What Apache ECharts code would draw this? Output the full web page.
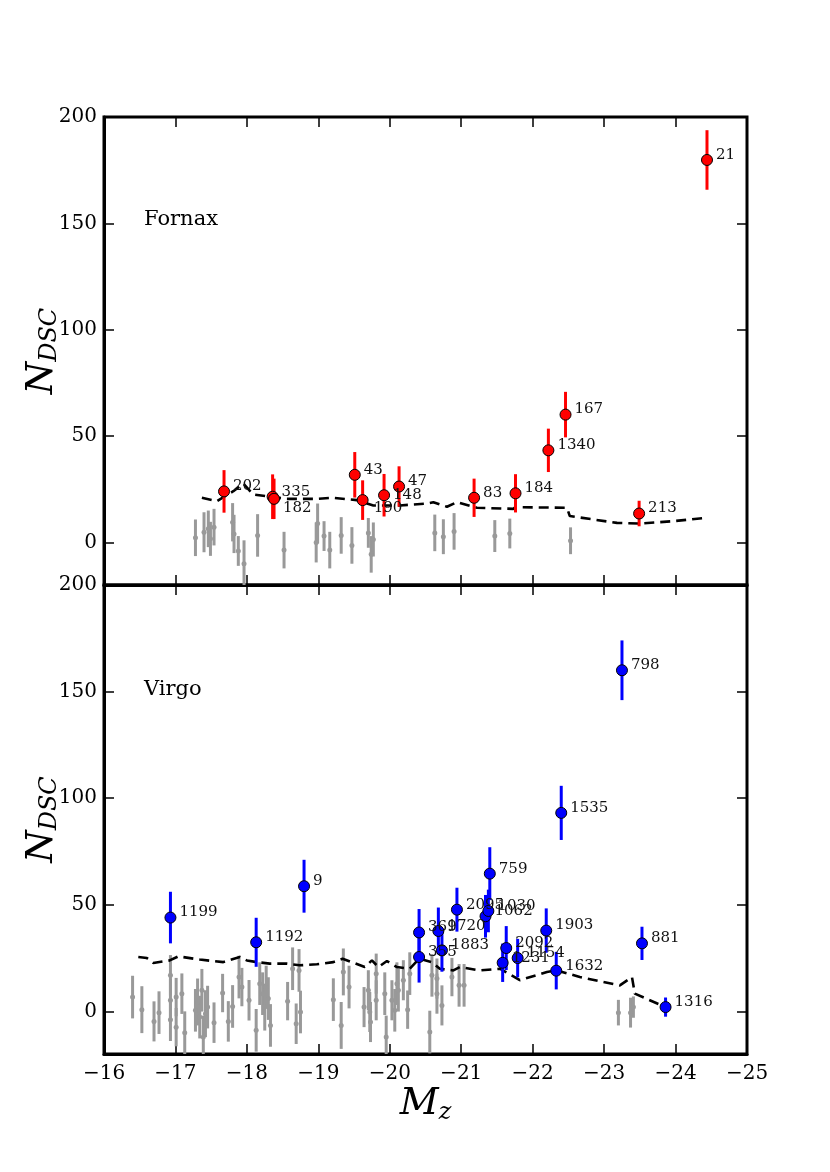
<!DOCTYPE html>
<html>
<head>
<meta charset="utf-8">
<script src="https://cdn.jsdelivr.net/npm/echarts@6/dist/echarts.min.js"></script>
<style>
  html, body { margin: 0; padding: 0; background: #fff; }
  #chart { width: 830px; height: 1172px; }
</style>
</head>
<body>
<div id="chart"></div>
<script>
// Fornax: labelled galaxies
const fornaxIds = ['202', '335', '182', '43', '190', '148', '47', '83', '184', '1340', '167', '213', '21'];
const fornaxMz = [-17.68, -18.36, -18.38, -19.51, -19.62, -19.92, -20.13, -21.18, -21.76, -22.22, -22.46, -23.49, -24.44];
const fornaxN = [24, 21.5, 20.5, 31.8, 19.9, 22.2, 26.3, 21, 23.1, 43.3, 60.1, 13.6, 179.8];
const fornaxErr = [10, 10.5, 9.5, 10.7, 9.3, 10, 9.5, 9, 9, 10.2, 10.7, 6, 14];

// Fornax: other galaxies (grey)
const fornaxGreyMz = [-17.28, -17.40, -17.46, -17.49, -17.54, -17.80, -17.82, -17.88, -17.96, -18.15, -18.52, -18.97, -18.99,
  -19.08, -19.16, -19.32, -19.47, -19.70, -19.74, -19.77, -20.63, -20.75, -20.90, -21.47, -21.68, -22.53];
const fornaxGreyN = [2.2, 4.8, 6.4, 1.7, 7.2, 9.5, 4, -4, -10, 3.3, -3.6, 0, 8.9,
  3, -3.6, 3.3, -1.4, 4.5, -5.6, 1.4, 4.5, 2.7, 5.2, 3, 4.2, 0.8];
const fornaxGreyErr = [8.6, 9.4, 8.6, 8, 8.6, 9, 9, 7, 11, 10, 8.6, 9.4, 9.4,
  7, 8.6, 8.6, 8.6, 7, 8.6, 8, 8.6, 8.2, 8.6, 7.5, 7, 6.3];

// Fornax: dashed curve
const fornaxLineMz = [-17.37, -17.58, -17.81, -17.95, -18.09, -18.28, -18.56, -18.98, -19.21, -19.54, -19.77, -20.14, -20.52,
  -20.61, -20.80, -20.94, -21.22, -21.73, -21.76, -22.48, -22.52, -23.18, -23.50, -23.97, -24.44];
const fornaxLineN = [21, 19.4, 24.1, 27.7, 22.5, 21.7, 20.5, 20.5, 21, 19.9, 17.4, 17.4, 18.3,
  18.9, 16.8, 18.9, 16.3, 15.8, 16.6, 16.3, 12.4, 9.2, 8.9, 10, 11.6];

// Virgo: labelled galaxies
const virgoIds = ['1199', '1192', '9', '369', '355', '1720', '1883', '2095', '1062', '1030', '759', '2092', '1231', '1154',
  '1903', '1632', '1535', '798', '881', '1316'];
const virgoMz = [-16.93, -18.13, -18.80, -20.41, -20.41, -20.68, -20.73, -20.94, -21.34, -21.38, -21.40, -21.63, -21.58, -21.79,
  -22.19, -22.33, -22.40, -23.25, -23.53, -23.86];
const virgoN = [44, 32.4, 58.7, 37, 25.5, 37.7, 28.6, 47.7, 44.6, 47.1, 64.6, 29.7, 22.8, 25,
  37.9, 19.1, 93.1, 160, 31.9, 2];
const virgoErr = [12.1, 11.5, 12.4, 11, 12, 11, 10, 10.3, 10, 10, 12.4, 10.3, 9, 9,
  10.4, 8.8, 12.7, 14, 7.8, 4.5];

// Virgo: other galaxies (grey)
const virgoGreyMz = [-16.40, -16.53, -16.70, -16.77, -16.93, -16.93, -16.93, -17.01, -17.01, -17.09, -17.13, -17.28, -17.31,
  -17.34, -17.37, -17.39, -17.42, -17.45, -17.54, -17.66, -17.74, -17.80, -17.89, -17.93, -18.03, -18.13, -18.18, -18.22,
  -18.25, -18.27, -18.30, -18.33, -18.57, -18.64, -18.69, -18.73, -18.75, -19.21, -19.32, -19.35, -19.43, -19.64, -19.70,
  -19.72, -19.73, -19.81, -19.81, -19.93, -19.95, -20.03, -20.07, -20.10, -20.12, -20.19, -20.25, -20.28, -20.56, -20.59,
  -20.66, -20.66, -20.73, -20.87, -20.97, -21.04, -23.20, -23.37, -23.41, -23.86];
const virgoGreyN = [6.7, 0.8, -4.7, -0.6, 16.9, 5.2, -3.9, 6.7, -7.4, 8.3, -10, 0.5, 4.4,
  -2.7, 9.9, -12, -1.1, 2, -5.3, 8.6, -4.7, 2.3, 16.1, 11.4, 5.2, -8.9, 13, 8.3,
  2, 11.4, 6, -6.6, 4.8, 20, -5.8, 19.2, -0.3, 5.5, -6.6, 18.5, 11.4, 2, 9.9,
  -0.3, -5, 5.2, 17.7, 8.3, -12, 5.2, 0.5, 13, 9.9, 14.6, 0.8, 17.7, -9.7, 16.9,
  8.3, 15.4, 2.8, 16.1, 12.2, 12.2, -0.6, -0.6, 2, 1];
const virgoGreyErr = [10, 11, 9.4, 10, 9.5, 10, 10, 9, 9, 9.5, 10, 10, 11,
  10, 10, 10, 11, 10, 9.5, 9, 9.5, 10, 10, 9, 9.5, 10, 10, 10,
  11, 10, 10, 10, 9, 10, 9.5, 10, 10, 10, 11, 11, 10, 9.4, 9.4,
  9.4, 9.4, 9.4, 9.4, 10, 10, 9.4, 10, 10, 10, 9.4, 9, 10, 10, 10,
  9.4, 9.4, 9.4, 9, 10, 10, 6, 7, 5, 3];

// Virgo: dashed curve
const virgoLineMz = [-16.48, -16.60, -16.69, -16.92, -17.04, -17.34, -17.67, -17.90, -18.00, -18.14, -18.32, -18.56, -18.74,
  -18.98, -19.21, -19.34, -19.65, -19.75, -19.84, -19.96, -20.10, -20.28, -20.41, -20.59, -20.70, -20.89, -20.98, -21.26,
  -21.54, -21.73, -21.82, -22.20, -22.34, -22.66, -23.22, -23.39, -23.43, -23.86];
const virgoLineN = [25.5, 25, 22.7, 23.9, 25.8, 24.3, 23.1, 25.5, 23.9, 23.1, 22.4, 22.4, 21.6,
  22.1, 23.1, 24.7, 20.8, 23.9, 20.8, 23.6, 20.8, 20, 24.7, 23.1, 20, 19.2, 20.8, 19.2,
  20, 16.4, 14.6, 18.5, 19.2, 16.1, 12.2, 16.1, 8.3, 2];

const yTicks = [0, 50, 100, 150, 200];

const serif = 'DejaVu Serif';
const labelShift = { '182': [0, 9], '190': [2, 8], '148': [0, 0] };

const zip3 = (a, b, c) => a.map((v, i) => [v, b[i], c[i]]);
const zip2 = (a, b) => a.map((v, i) => [v, b[i]]);

const errBars = (data, color, idx, z) => ({
  type: 'custom',
  xAxisIndex: idx,
  yAxisIndex: idx,
  clip: true,
  z,
  encode: { x: 0, y: 1 },
  data,
  renderItem: (params, api) => {
    const x = api.value(0);
    const y = api.value(1);
    const e = api.value(2);
    const p1 = api.coord([x, y - e]);
    const p2 = api.coord([x, y + e]);
    return {
      type: 'line',
      shape: { x1: p1[0], y1: p1[1], x2: p2[0], y2: p2[1] },
      style: { stroke: color, lineWidth: 3 },
    };
  },
});

const points = (mz, n, ids, color, idx) => ({
  type: 'scatter',
  xAxisIndex: idx,
  yAxisIndex: idx,
  z: 5,
  symbol: 'circle',
  symbolSize: 11,
  itemStyle: { color, borderColor: '#000', borderWidth: 1, opacity: 1 },
  label: {
    show: true,
    position: 'right',
    distance: 3,
    color: '#111',
    fontFamily: serif,
    fontSize: 15,
    formatter: (p) => p.data.id,
  },
  emphasis: { disabled: true },
  data: mz.map((v, i) => ({
    value: [v, n[i]],
    id: ids[i],
    label: { offset: labelShift[ids[i]] || [0, -5] },
  })),
});

const greyDots = (mz, n, idx) => ({
  type: 'scatter',
  xAxisIndex: idx,
  yAxisIndex: idx,
  z: 2,
  symbolSize: 5,
  itemStyle: { color: '#999', opacity: 1 },
  data: zip2(mz, n),
});

const dashed = (mz, n, idx) => ({
  type: 'line',
  xAxisIndex: idx,
  yAxisIndex: idx,
  z: 3,
  symbol: 'none',
  lineStyle: { color: '#000', width: 2.6, type: [10, 6] },
  data: zip2(mz, n),
});

const xBase = (gridIndex, position, showLabel) => ({
  type: 'value',
  gridIndex,
  position,
  min: -25,
  max: -16,
  interval: 1,
  inverse: true,
  axisLine: { show: position === 'bottom', onZero: false, lineStyle: { color: '#000', width: 3 } },
  axisTick: { show: true, inside: true, length: 10, lineStyle: { color: '#000', width: 1.5 } },
  axisLabel: {
    show: showLabel,
    margin: 10,
    color: '#000',
    fontFamily: serif,
    fontSize: 20,
    formatter: (v) => (v < 0 ? '\u2212' + Math.abs(v) : String(v)),
  },
  splitLine: { show: false },
});

const yBase = (gridIndex, position, showLabel) => ({
  type: 'value',
  gridIndex,
  position,
  min: -20,
  max: 200,
  axisLine: { show: position === 'left', onZero: false, lineStyle: { color: '#000', width: 3 } },
  axisTick: { show: true, inside: true, length: 10, customValues: yTicks, lineStyle: { color: '#000', width: 1.5 } },
  axisLabel: {
    show: showLabel,
    customValues: yTicks,
    margin: 7,
    color: '#000',
    fontFamily: serif,
    fontSize: 20,
  },
  splitLine: { show: false },
});

const yName = {
  name: '{n|N}{s|DSC}',
  nameLocation: 'middle',
  nameRotate: 90,
  nameGap: 42,
  nameMoveOverlap: false,
  nameTextStyle: {
    rich: {
      n: { fontFamily: serif, fontStyle: 'italic', fontSize: 37, color: '#000' },
      s: { fontFamily: serif, fontStyle: 'italic', fontSize: 24, color: '#000', padding: [16, 0, 0, 0] },
    },
  },
};

const xAxisMain = Object.assign(xBase(1, 'bottom', true), {
  name: '{n|M}{s|z}',
  nameLocation: 'middle',
  nameGap: 28,
  nameTextStyle: {
    rich: {
      n: { fontFamily: serif, fontStyle: 'italic', fontSize: 38, color: '#000' },
      s: { fontFamily: serif, fontStyle: 'italic', fontSize: 24, color: '#000', padding: [18, 0, 0, 0] },
    },
  },
});

const option = {
  animation: false,
  backgroundColor: '#fff',
  title: [
    { text: 'Fornax', left: 139, top: 204, textStyle: { fontFamily: serif, fontWeight: 'normal', fontSize: 21, color: '#000' } },
    { text: 'Virgo', left: 139, top: 674, textStyle: { fontFamily: serif, fontWeight: 'normal', fontSize: 21, color: '#000' } },
  ],
  grid: [
    { left: 104, top: 117, width: 643, height: 468, show: true, borderColor: '#000', borderWidth: 3, backgroundColor: 'transparent' },
    { left: 104, top: 585, width: 643, height: 469, show: true, borderColor: '#000', borderWidth: 3, backgroundColor: 'transparent' },
  ],
  xAxis: [
    xBase(0, 'bottom', false),
    xAxisMain,
    xBase(0, 'top', false),
    xBase(1, 'top', false),
  ],
  yAxis: [
    Object.assign(yBase(0, 'left', true), yName),
    Object.assign(yBase(1, 'left', true), yName),
    yBase(0, 'right', false),
    yBase(1, 'right', false),
  ],
  series: [
    errBars(zip3(fornaxGreyMz, fornaxGreyN, fornaxGreyErr), '#999', 0, 1),
    greyDots(fornaxGreyMz, fornaxGreyN, 0),
    dashed(fornaxLineMz, fornaxLineN, 0),
    errBars(zip3(fornaxMz, fornaxN, fornaxErr), '#ff0000', 0, 4),
    points(fornaxMz, fornaxN, fornaxIds, '#ff0000', 0),

    errBars(zip3(virgoGreyMz, virgoGreyN, virgoGreyErr), '#999', 1, 1),
    greyDots(virgoGreyMz, virgoGreyN, 1),
    dashed(virgoLineMz, virgoLineN, 1),
    errBars(zip3(virgoMz, virgoN, virgoErr), '#0000ff', 1, 4),
    points(virgoMz, virgoN, virgoIds, '#0000ff', 1),
  ],
};

const myChart = echarts.init(document.getElementById('chart'), null, { renderer: 'canvas' });
myChart.setOption(option);
</script>
</body>
</html>
